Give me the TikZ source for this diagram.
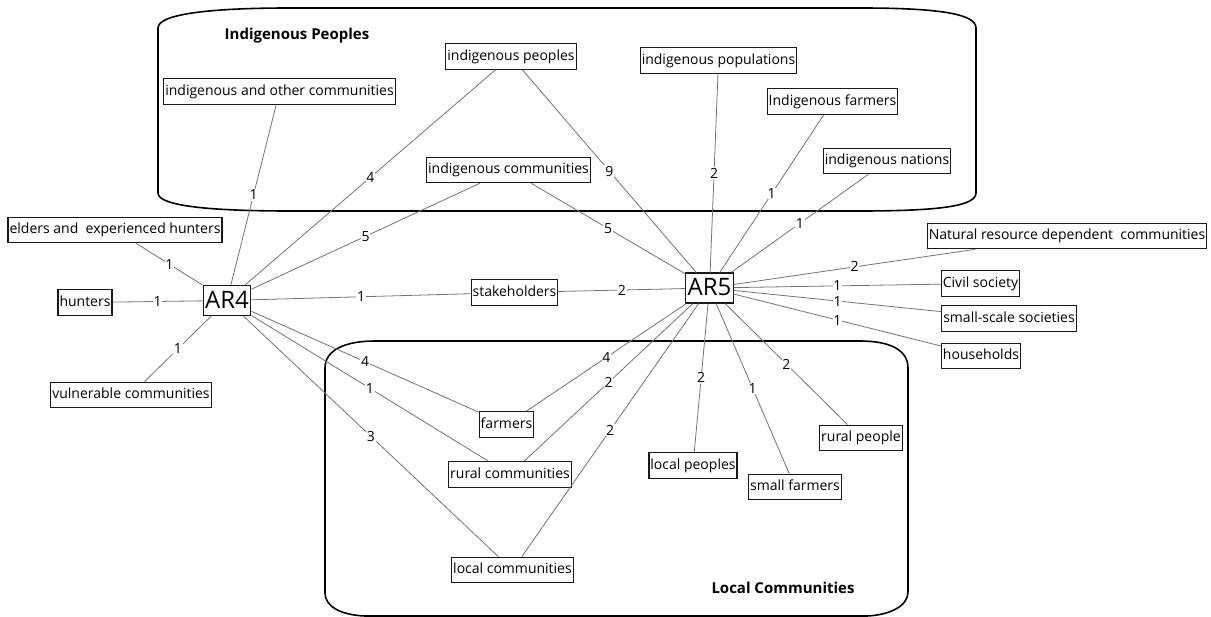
\documentclass[tikz,border=0pt]{standalone}
\usepackage{fontspec}
\setmainfont{Open Sans}
\definecolor{EdgeClr}{rgb}{0.45,0.45,0.45}
\definecolor{BoxClr}{rgb}{0.1,0.1,0.1}

\begin{document}
\begin{tikzpicture}[x=1pt,y=-1pt,
  term/.style={draw=BoxClr,line width=1.2pt,fill=white,inner xsep=1.5pt,inner ysep=6pt,
    text height=10.5pt,text depth=3pt,font=\fontsize{14}{16}\selectfont},
  hub/.style={term,inner xsep=2pt,inner ysep=6pt,text height=17pt,text depth=1pt,font=\fontsize{24}{26}\selectfont},
  group/.style={line width=1.6pt,black},
  grouplabel/.style={font=\bfseries\fontsize{15}{17}\selectfont},
  edge/.style={EdgeClr,line width=0.8pt},
  cnt/.style={midway,fill=white,inner sep=0.8pt,text=black,font=\fontsize{14}{16}\selectfont}]
\useasboundingbox (0,0) rectangle (1211,617);

\draw[group] (158,193) -- (158,28) .. controls (158,14) and (210,8) .. (290,8) -- (860,8)
  .. controls (940,8) and (976,14) .. (976,28) -- (976,193)
  .. controls (976,206) and (940,211) .. (860,211) -- (290,211)
  .. controls (210,211) and (158,206) .. (158,193) -- cycle;
\draw[group] (325,593) -- (325,368) .. controls (325,350) and (345,341) .. (375,341) -- (860,341)
  .. controls (890,341) and (908,350) .. (908,368) -- (908,592)
  .. controls (908,606) and (890,615) .. (867,616) -- (365,616)
  .. controls (340,615) and (325,606) .. (325,593) -- cycle;
\node[grouplabel] (lblIP) at (297,36) {Indigenous Peoples};
\node[grouplabel] (lblLC) at (783,588) {Local Communities};

\node[hub] (AR4) at (227,300.5) {AR4};
\node[hub] (AR5) at (709.5,288) {AR5};

\node[term] (ioc) at (279.5,91.5) {indigenous and other communities};
\node[term] (ipeo) at (511,56.5) {indigenous peoples};
\node[term] (ipop) at (718.5,60.5) {indigenous populations};
\node[term] (ifarm) at (832.5,101.5) {Indigenous farmers};
\node[term] (inat) at (887,161) {indigenous nations};
\node[term] (icom) at (508.5,170) {indigenous communities};
\node[term] (elders) at (115,230) {elders and~ experienced hunters};
\node[term] (hunters) at (85,302.5) {hunters};
\node[term] (vuln) at (131,395) {vulnerable communities};
\node[term] (stake) at (514.5,292.5) {stakeholders};
\node[term] (nrdc) at (1067,236) {Natural resource dependent~ communities};
\node[term] (civil) at (980.5,283.5) {Civil society};
\node[term] (sss) at (1009,318.5) {small-scale societies};
\node[term] (house) at (981,356) {households};
\node[term] (farm) at (506.5,424.5) {farmers};
\node[term] (rcom) at (510,474.5) {rural communities};
\node[term] (lcom) at (512.5,570) {local communities};
\node[term] (lpeo) at (693,465.5) {local peoples};
\node[term] (sfarm) at (795,487) {small farmers};
\node[term] (rpeo) at (861,438) {rural people};

\foreach \to/\n in {ioc/1,ipeo/4,icom/5,elders/1,hunters/1,vuln/1,stake/1,farm/4,rcom/1,lcom/3}
  \draw[edge] (AR4) -- node[cnt] {\n} (\to);
\foreach \to/\n in {stake/2,icom/5,ipeo/9,ipop/2,ifarm/1,inat/1,nrdc/2,civil/1,sss/1,house/1,
    farm/4,rcom/2,lcom/2,lpeo/2,sfarm/1,rpeo/2}
  \draw[edge] (AR5) -- node[cnt] {\n} (\to);

\end{tikzpicture}
\end{document}
